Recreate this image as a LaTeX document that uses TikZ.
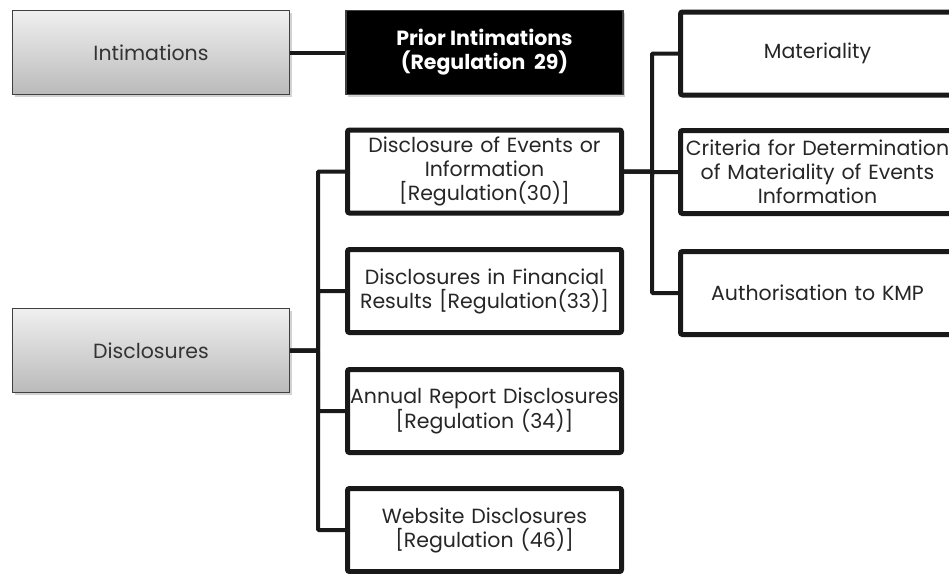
\documentclass[tikz,border=0pt]{standalone}
\usepackage{fontspec}
\setmainfont{Poppins}
\usepackage{tikz}
\usetikzlibrary{shadows}

\begin{document}
\begin{tikzpicture}[
		x=1pt, y=-1pt,
		font=\fontsize{20.5}{24}\selectfont,
		gris/.style={
			rectangle,
			draw=black!75,
			line width=1.2pt,
			top color=black!6,
			bottom color=black!27,
			minimum width=277pt,
			minimum height=84pt,
			align=center,
			text=black!80,
			drop shadow={shadow xshift=2pt, shadow yshift=-2pt, opacity=0.35}
		},
		negro/.style={
			gris,
			fill=black,
			top color=black,
			bottom color=black,
			text=white,
			font=\fontsize{20.5}{24}\selectfont\bfseries
		},
		caja/.style={
			rectangle,
			rounded corners=2pt,
			draw=black!90,
			line width=5pt,
			fill=white,
			minimum width=274pt,
			minimum height=83pt,
			text width=274pt,
			align=center,
			text=black!85,
			inner sep=0pt,
			drop shadow={shadow xshift=2pt, shadow yshift=-2pt, opacity=0.3}
		},
		ln/.style={
			draw=black!90,
			line width=4pt,
			rounded corners=1pt
		}
		]
		
		\useasboundingbox (0,0) rectangle (949,573);
		\clip (0,0) rectangle (949,573);
		\fill[white] (0,0) rectangle (949,573);
		
		% Intimations
		\node[gris] (intim) at (151,52.5) {Intimations};
		\node[negro] (prior) at (484.5,52.5)
		{Prior Intimations\\(Regulation\ \ 29)};
		\draw[ln] (intim) -- (prior);
		
		% Disclosures
		\node[gris] (discl) at (151,350.5) {Disclosures};
		
		\node[caja] (discev) at (484.5,171.5)
		{Disclosure of Events or\\Information\\{}[Regulation(30)]};
		\node[caja] (discfin) at (484.5,291)
		{Disclosures in Financial\\Results [Regulation(33)]};
		\node[caja] (annual) at (484.5,411)
		{Annual Report Disclosures\\{}[Regulation (34)]};
		\node[caja] (web) at (484.5,530)
		{Website Disclosures\\{}[Regulation (46)]};
		
		\coordinate (lbus) at (318,0);
		\foreach \n in {discev,discfin,annual,web}
		\draw[ln] (discl.east) -- (discl.east -| lbus) |- (\n.west);
		
		% Regulation 30
		\node[caja] (mater) at (817.5,53.5) {Materiality};
		\node[caja] (crit) at (817.5,172)
		{Criteria for Determination\\of Materiality of Events\\Information};
		\node[caja] (auth) at (817.5,293) {Authorisation to KMP};
		
		\coordinate (rbus) at (652,0);
		\foreach \n in {mater,crit,auth}
		\draw[ln] (discev.east) -- (discev.east -| rbus) |- (\n.west);
		
	\end{tikzpicture}
\end{document}
